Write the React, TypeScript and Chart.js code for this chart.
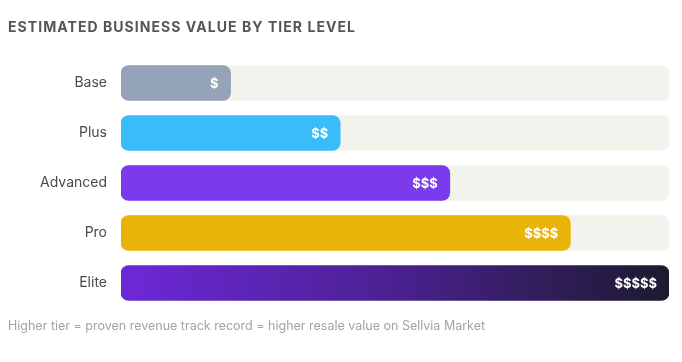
import React, { useEffect, useRef } from "react";
import { Chart, registerables } from "chart.js";

Chart.register(...registerables);

const tiers = ["Base", "Plus", "Advanced", "Pro", "Elite"];
const values = [20, 40, 60, 82, 100];
const valueLabels = ["$", "$$", "$$$", "$$$$", "$$$$$"];
const trackValues = [100, 100, 100, 100, 100];
const barColors = ["#94a3b8", "#38bdf8", "#7c3aed", "#eab308", "gradient"];

const FONT = "Inter, 'DejaVu Sans', sans-serif";

export default function App() {
  const ref = useRef<HTMLCanvasElement | null>(null);

  useEffect(() => {
    if (!ref.current) return;
    const labelPlugin = {
      id: "valueLabels",
      afterDatasetsDraw(chart: any) {
        const ctx = chart.ctx;
        const meta = chart.getDatasetMeta(0);
        ctx.save();
        ctx.font = `700 13px ${FONT}`;
        ctx.fillStyle = "#ffffff";
        ctx.textAlign = "right";
        ctx.textBaseline = "middle";
        meta.data.forEach((bar: any, i: number) => {
          ctx.fillText(valueLabels[i], bar.x - 12, bar.y + 1);
        });
        ctx.restore();
      },
    };

    const chart = new Chart(ref.current, {
      type: "bar",
      data: {
        labels: tiers,
        datasets: [
          {
            data: values,
            order: 1,
            grouped: false,
            barThickness: 35,
            borderRadius: 8,
            borderSkipped: false,
            backgroundColor: (c: any) => {
              const col = barColors[c.dataIndex];
              if (col !== "gradient") return col;
              const area = c.chart.chartArea;
              if (!area) return "#6d28d9";
              const g = c.chart.ctx.createLinearGradient(area.left, 0, area.right, 0);
              g.addColorStop(0, "#6d28d9");
              g.addColorStop(0.5, "#4a2190");
              g.addColorStop(1, "#1c1a2e");
              return g;
            },
          } as any,
          {
            data: trackValues,
            order: 2,
            grouped: false,
            barThickness: 35,
            borderRadius: 8,
            borderSkipped: false,
            backgroundColor: "#f3f3ee",
          } as any,
        ],
      },
      options: {
        indexAxis: "y",
        animation: false,
        responsive: true,
        maintainAspectRatio: false,
        layout: { padding: { left: 0, right: 13, top: 58, bottom: 54 } },
        plugins: {
          legend: { display: false },
          tooltip: { enabled: false },
          title: { display: false },
        },
        scales: {
          x: { display: false, min: 0, max: 100 },
          y: {
            grid: { display: false },
            border: { display: false },
            ticks: {
              padding: 6,
              color: "#4a4a4a",
              font: { family: FONT, size: 14 },
            },
            afterFit: (s: any) => {
              s.width = 121;
            },
          },
        },
      } as any,
      plugins: [labelPlugin],
    });
    return () => chart.destroy();
  }, []);

  return (
    <div style={{ position: "absolute", left: 0, top: 0, width: 682, height: 362, background: "#fff" }}>
      <div style={{ position: "absolute", left: 0, top: 0, width: 682, height: 362 }}>
        <canvas ref={ref} />
      </div>
      <div
        style={{
          position: "absolute",
          left: 8,
          top: 18,
          fontFamily: FONT,
          fontWeight: 700,
          fontSize: 14,
          letterSpacing: "1.05px",
          color: "#555555",
          whiteSpace: "nowrap",
        }}
      >
        ESTIMATED BUSINESS VALUE BY TIER LEVEL
      </div>
      <div
        style={{
          position: "absolute",
          left: 8,
          top: 318,
          fontFamily: FONT,
          fontSize: 12.5,
          color: "#a3a3a3",
          whiteSpace: "nowrap",
        }}
      >
        Higher tier = proven revenue track record = higher resale value on Sellvia Market
      </div>
    </div>
  );
}
